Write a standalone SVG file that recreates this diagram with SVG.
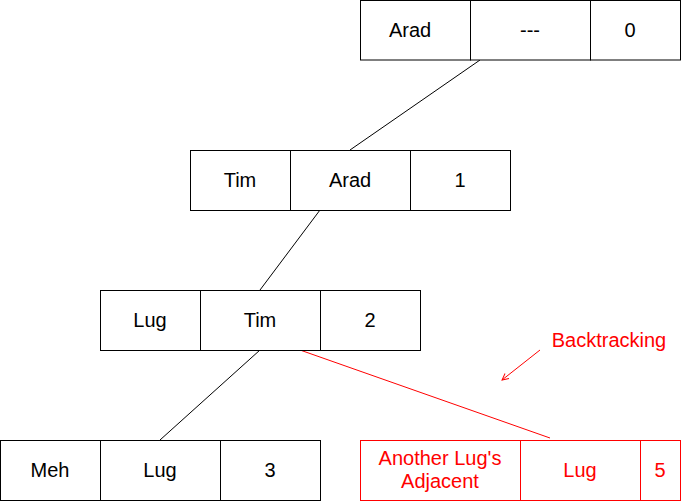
<svg xmlns="http://www.w3.org/2000/svg" width="691" height="503" viewBox="0 0 691 503">
<style>
.c{fill:#fff;stroke:#000;stroke-width:1}
.r{fill:#fff;stroke:#f00;stroke-width:1}
text{font-family:"Liberation Sans",Arial,sans-serif;font-size:20px;text-anchor:middle}
.t{fill:#000}
.tr{fill:#f00}
.l{stroke:#000;stroke-width:1;fill:none}
.lr{stroke:#f00;stroke-width:1;fill:none}
</style>
<defs>
<marker id="ah" viewBox="0 0 10 10" refX="9" refY="5" markerWidth="8" markerHeight="8" orient="auto" markerUnits="userSpaceOnUse">
<path d="M1,1 L9,5 L1,9" fill="none" stroke="#f00" stroke-width="1.2"/>
</marker>
</defs>
<g id="connectors">
<line class="l" x1="480" y1="60" x2="350" y2="150"/>
<line class="l" x1="320" y1="210" x2="260" y2="290"/>
<line class="l" x1="260" y1="350" x2="160" y2="440"/>
<line class="lr" x1="300" y1="350" x2="550" y2="438"/>
<line class="lr" x1="540" y1="350" x2="502" y2="380" marker-end="url(#ah)"/>
</g>
<g id="n0">
<rect class="c" x="360.5" y="0.5" width="110" height="59.5"/>
<rect class="c" x="470.5" y="0.5" width="120" height="59.5"/>
<rect class="c" x="590.5" y="0.5" width="90" height="59.5"/>
<text class="t" x="410" y="37">Arad</text>
<text class="t" x="530" y="37">---</text>
<text class="t" x="630" y="37">0</text>
</g>
<g id="n1">
<rect class="c" x="190.5" y="150.5" width="100" height="60"/>
<rect class="c" x="290.5" y="150.5" width="120" height="60"/>
<rect class="c" x="410.5" y="150.5" width="100" height="60"/>
<text class="t" x="240" y="187">Tim</text>
<text class="t" x="350" y="187">Arad</text>
<text class="t" x="460" y="187">1</text>
</g>
<g id="n2">
<rect class="c" x="100.5" y="290.5" width="100" height="60"/>
<rect class="c" x="200.5" y="290.5" width="120" height="60"/>
<rect class="c" x="320.5" y="290.5" width="100" height="60"/>
<text class="t" x="150" y="327">Lug</text>
<text class="t" x="260" y="327">Tim</text>
<text class="t" x="370" y="327">2</text>
</g>
<g id="n3">
<rect class="c" x="0.5" y="440.5" width="100" height="60"/>
<rect class="c" x="100.5" y="440.5" width="120" height="60"/>
<rect class="c" x="220.5" y="440.5" width="100" height="60"/>
<text class="t" x="50" y="477">Meh</text>
<text class="t" x="160" y="477">Lug</text>
<text class="t" x="270" y="477">3</text>
</g>
<g id="n4">
<rect class="r" x="360.5" y="440.5" width="160" height="60"/>
<rect class="r" x="520.5" y="440.5" width="120" height="60"/>
<rect class="r" x="640.5" y="440.5" width="40" height="60"/>
<text class="tr" x="440" y="465">Another Lug's</text>
<text class="tr" x="440" y="488">Adjacent</text>
<text class="tr" x="580" y="477">Lug</text>
<text class="tr" x="660" y="477">5</text>
</g>
<g id="label">
<text class="tr" x="609" y="347">Backtracking</text>
</g>
</svg>
